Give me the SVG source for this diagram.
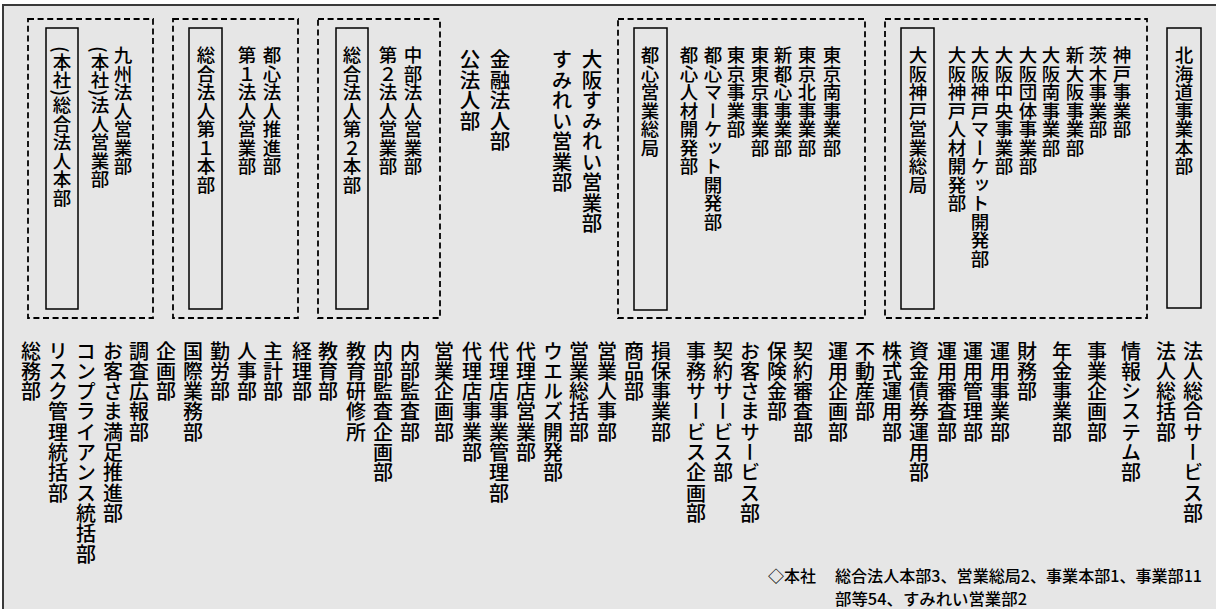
<svg xmlns="http://www.w3.org/2000/svg" width="1216" height="609" viewBox="0 0 1216 609">
<style>
.v{writing-mode:vertical-rl;font-family:"Noto Sans CJK JP","Noto Sans CJK SC",sans-serif;fill:#000;font-weight:500}
.s{font-size:18.5px}
.m{font-size:20.5px}
.b{font-size:20px;letter-spacing:0.3px}
.dash{fill:none;stroke:#000;stroke-width:1.8;stroke-dasharray:6 3.6}
.box{fill:none;stroke:#000;stroke-width:1.5}
.h{font-family:"Noto Sans CJK JP","Noto Sans CJK SC",sans-serif;font-size:16px;fill:#000;font-weight:500}
</style>
<rect x="3" y="5" width="1213" height="604" fill="#e6e6e6"/>
<path d="M3 609 V5 H1216" fill="none" stroke="#3a3a3a" stroke-width="2"/>

<g id="group-honsha">
<rect class="dash" x="28" y="19" width="125" height="299"/>
<g id="node-honsha-sogo">
<rect class="box" x="46" y="28" width="32" height="281"/>
<text class="v s" x="62" y="46">(本社)総合法人本部</text>
</g>
<text class="v s" x="123" y="46">九州法人営業部</text>
<text class="v s" x="100" y="46">(本社)法人営業部</text>
</g>

<g id="group-sogo1">
<rect class="dash" x="173" y="19" width="125" height="299"/>
<g id="node-sogo1">
<rect class="box" x="189" y="28" width="33" height="281"/>
<text class="v s" x="206" y="46">総合法人第１本部</text>
</g>
<text class="v s" x="272" y="46">都心法人推進部</text>
<text class="v s" x="247" y="46">第１法人営業部</text>
</g>

<g id="group-sogo2">
<rect class="dash" x="318" y="19" width="122" height="299"/>
<g id="node-sogo2">
<rect class="box" x="336" y="28" width="32" height="281"/>
<text class="v s" x="352" y="46">総合法人第２本部</text>
</g>
<text class="v s" x="413" y="46">中部法人営業部</text>
<text class="v s" x="388" y="46">第２法人営業部</text>
</g>

<g id="node-kinyu"><text class="v m" x="500" y="49">金融法人部</text></g>
<g id="node-kohojin"><text class="v m" x="470" y="49">公法人部</text></g>
<g id="node-osaka-sumirei"><text class="v m" x="592" y="49">大阪すみれい営業部</text></g>
<g id="node-sumirei"><text class="v m" x="562" y="49">すみれい営業部</text></g>

<g id="group-toshin">
<rect class="dash" x="618" y="19" width="247" height="299"/>
<g id="node-toshin">
<rect class="box" x="634" y="28" width="33" height="282"/>
<text class="v s" x="650" y="46">都心営業総局</text>
</g>
<text class="v s" x="832" y="46">東京南事業部</text>
<text class="v s" x="807" y="46">東京北事業部</text>
<text class="v s" x="783" y="46">新都心事業部</text>
<text class="v s" x="760" y="46">東東京事業部</text>
<text class="v s" x="736" y="46">東京事業部</text>
<text class="v s" x="713" y="46">都心マーケット開発部</text>
<text class="v s" x="689" y="46">都心人材開発部</text>
</g>

<g id="group-osakakobe">
<rect class="dash" x="885" y="19" width="262" height="299"/>
<g id="node-osakakobe">
<rect class="box" x="901" y="28" width="33" height="281"/>
<text class="v s" x="918" y="46">大阪神戸営業総局</text>
</g>
<text class="v s" x="1122" y="46">神戸事業部</text>
<text class="v s" x="1098" y="46">茨木事業部</text>
<text class="v s" x="1075" y="46">新大阪事業部</text>
<text class="v s" x="1051" y="46">大阪南事業部</text>
<text class="v s" x="1028" y="46">大阪団体事業部</text>
<text class="v s" x="1004" y="46">大阪中央事業部</text>
<text class="v s" x="980" y="46">大阪神戸マーケット開発部</text>
<text class="v s" x="957" y="46">大阪神戸人材開発部</text>
</g>

<g id="node-hokkaido">
<rect class="box" x="1167" y="28" width="34" height="280"/>
<text class="v s" x="1184" y="46">北海道事業本部</text>
</g>

<g id="departments">
<text class="v b" x="1193" y="341">法人総合サービス部</text>
<text class="v b" x="1166" y="341">法人総括部</text>
<text class="v b" x="1131" y="341">情報システム部</text>
<text class="v b" x="1097" y="341">事業企画部</text>
<text class="v b" x="1062" y="341">年金事業部</text>
<text class="v b" x="1027" y="341">財務部</text>
<text class="v b" x="1000" y="341">運用事業部</text>
<text class="v b" x="973" y="341">運用管理部</text>
<text class="v b" x="947" y="341">運用審査部</text>
<text class="v b" x="919" y="341">資金債券運用部</text>
<text class="v b" x="892" y="341">株式運用部</text>
<text class="v b" x="865" y="341">不動産部</text>
<text class="v b" x="838" y="341">運用企画部</text>
<text class="v b" x="803" y="341">契約審査部</text>
<text class="v b" x="777" y="341">保険金部</text>
<text class="v b" x="750" y="341">お客さまサービス部</text>
<text class="v b" x="723" y="341">契約サービス部</text>
<text class="v b" x="696" y="341">事務サービス企画部</text>
<text class="v b" x="661" y="341">損保事業部</text>
<text class="v b" x="634" y="341">商品部</text>
<text class="v b" x="607" y="341">営業人事部</text>
<text class="v b" x="579" y="341">営業総括部</text>
<text class="v b" x="553" y="341">ウエルズ開発部</text>
<text class="v b" x="526" y="341">代理店営業部</text>
<text class="v b" x="499" y="341">代理店事業管理部</text>
<text class="v b" x="472" y="341">代理店事業部</text>
<text class="v b" x="444" y="341">営業企画部</text>
<text class="v b" x="410" y="341">内部監査部</text>
<text class="v b" x="383" y="341">内部監査企画部</text>
<text class="v b" x="356" y="341">教育研修所</text>
<text class="v b" x="328" y="341">教育部</text>
<text class="v b" x="302" y="341">経理部</text>
<text class="v b" x="273" y="341">主計部</text>
<text class="v b" x="247" y="341">人事部</text>
<text class="v b" x="220" y="341">勤労部</text>
<text class="v b" x="193" y="341">国際業務部</text>
<text class="v b" x="166" y="341">企画部</text>
<text class="v b" x="139" y="341">調査広報部</text>
<text class="v b" x="113" y="341">お客さま満足推進部</text>
<text class="v b" x="86" y="341">コンプライアンス統括部</text>
<text class="v b" x="58" y="341">リスク管理統括部</text>
<text class="v b" x="31" y="341">総務部</text>
</g>

<g id="footnote">
<text class="h" x="768" y="582">◇本社</text>
<text class="h" x="835" y="582" textLength="367" lengthAdjust="spacingAndGlyphs">総合法人本部3、営業総局2、事業本部1、事業部11</text>
<text class="h" x="835" y="605" textLength="192" lengthAdjust="spacingAndGlyphs">部等54、すみれい営業部2</text>
</g>
</svg>
